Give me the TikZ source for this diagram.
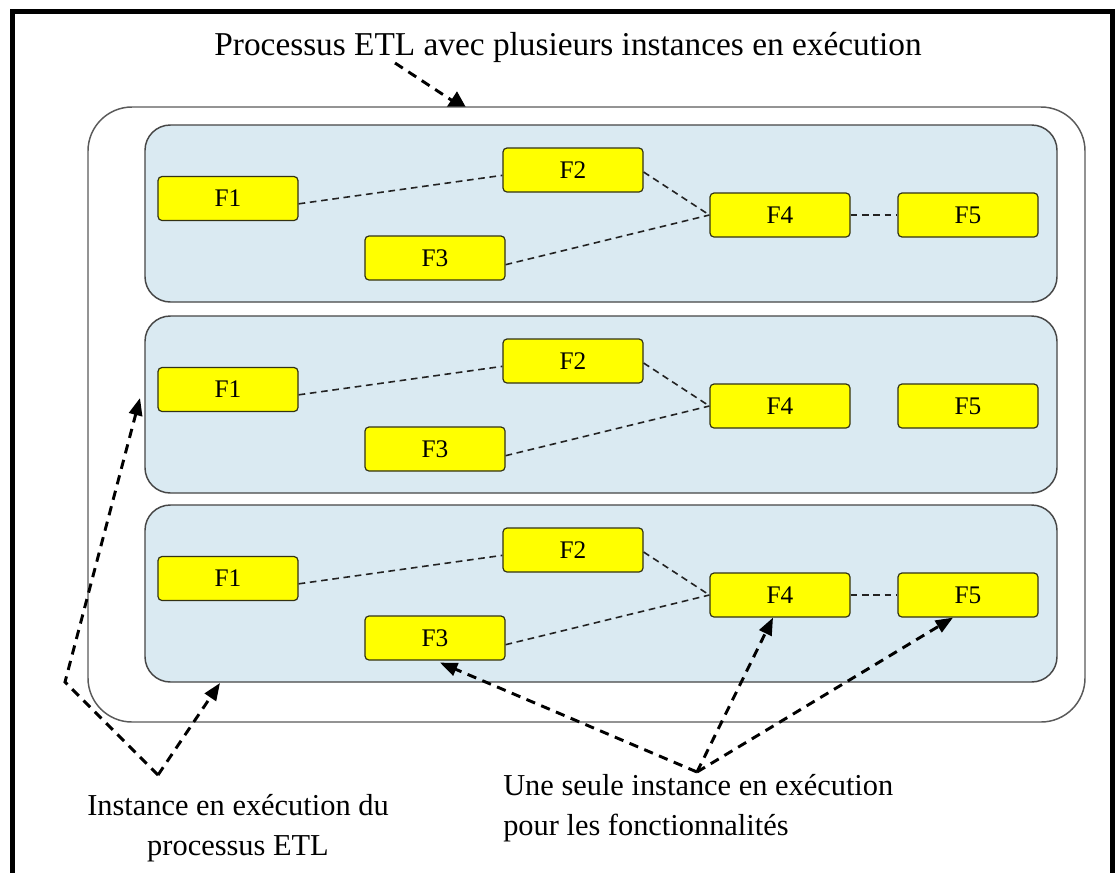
\documentclass[tikz,border=0pt]{standalone}
\usepackage{fontspec}
\setmainfont{Liberation Serif}
\usetikzlibrary{arrows.meta,calc}
\definecolor{panelfill}{RGB}{218,234,242}
\definecolor{paneldraw}{RGB}{70,70,70}
\definecolor{outerdraw}{RGB}{90,90,90}
\definecolor{fyellow}{RGB}{255,255,0}
\definecolor{fdraw}{RGB}{50,50,20}
\definecolor{conn}{RGB}{35,35,35}
\tikzset{
  outerbox/.style={draw=outerdraw, line width=1.1pt, fill=white, rounded corners=33pt,
    minimum width=747.75pt, minimum height=461.25pt, inner sep=0pt},
  panel/.style={draw=paneldraw, line width=1.1pt, fill=panelfill, rounded corners=19pt,
    minimum width=684pt, minimum height=132.75pt, inner sep=0pt},
  fbox/.style={draw=fdraw, line width=0.9pt, fill=fyellow, rounded corners=3pt,
    minimum width=105pt, minimum height=33pt, inner sep=0pt,
    font=\fontsize{19}{22}\selectfont},
  fconn/.style={draw=conn, line width=1.2pt, dash pattern=on 5pt off 3.5pt},
  bigarrow/.style={draw=black, line width=2.2pt, dash pattern=on 7pt off 5pt,
    -{Triangle[length=13pt,width=10pt]}},
  bigline/.style={draw=black, line width=2.2pt, dash pattern=on 7pt off 5pt},
  lbl/.style={font=\fontsize{22.8}{30}\selectfont, inner sep=0pt},
}
\begin{document}
\begin{tikzpicture}[x=0.75pt,y=-0.75pt]
\useasboundingbox (0,0) rectangle (1120,872);
% outer frame
\draw[line width=3.75pt] (12,890) -- (12,11) -- (1112,11) -- (1112,890);
% title
\node[font=\fontsize{25}{30}\selectfont, inner sep=0pt, anchor=base] (title) at (568,55)
  {Processus ETL avec plusieurs instances en exécution};
\coordinate (tstart) at (395,63);
\coordinate (ttip) at (468,111);
\draw[bigline, -{Triangle[length=15pt,width=15pt]}] (tstart) -- (ttip);
% outer rounded box
\node[outerbox] (outer) at (586.5,414.5) {};
% panels
\foreach \i/\dy in {1/0,2/191,3/380}{
  \node[panel] (p\i) at (601,213.5+\dy) {};
  \node[fbox] (F1-\i) at (228,198.5+\dy) {F1};
  \node[fbox] (F2-\i) at (573,170+\dy) {F2};
  \node[fbox] (F3-\i) at (435,258+\dy) {F3};
  \node[fbox] (F4-\i) at (780,215+\dy) {F4};
  \node[fbox] (F5-\i) at (968,215+\dy) {F5};
  \draw[fconn] ([yshift=-4pt]F1-\i.east) -- ([yshift=-4pt]F2-\i.west);
  \draw[fconn] ([yshift=-1.5pt]F2-\i.east) -- (F4-\i.west);
  \draw[fconn] ([yshift=-5pt]F3-\i.east) -- (F4-\i.west);
}
\draw[fconn] (F4-1.east) -- (F5-1.east -| F5-1.west);
\draw[fconn] (F4-3.east) -- (F5-3.east -| F5-3.west);
% bottom-left label and arrows
\node[lbl, align=center, anchor=base] (inst) at (238,855)
  {Instance en exécution du\\processus ETL};
\coordinate (v1) at (158,775);
\coordinate (bend) at (65,682);
\coordinate (p2tip) at (140,398);
\coordinate (p3tip) at (220,683);
\draw[bigarrow] (v1) -- (bend) -- (p2tip);
\draw[bigarrow] (v1) -- (p3tip);
% bottom-right label and arrows
\node[lbl, align=left, anchor=base west] (une) at (503,835)
  {Une seule instance en exécution\\pour les fonctionnalités};
\coordinate (v2) at (697,772);
\draw[bigarrow] (v2) -- ($(F3-3.south)+(5,2)$);
\draw[bigarrow] (v2) -- ($(F4-3.south)+(-7,0)$);
\draw[bigarrow] (v2) -- ($(F5-3.south)+(-15,0)$);
\end{tikzpicture}
\end{document}
